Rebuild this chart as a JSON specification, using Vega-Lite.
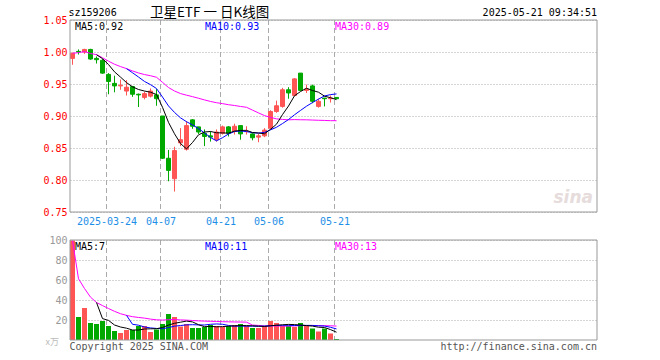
{
  "$schema": "https://vega.github.io/schema/vega-lite/v6.json",
  "width": 527,
  "height": 320,
  "autosize": {"type": "none"},
  "padding": {"left": 70, "top": 20, "right": 63, "bottom": 20},
  "background": "white",
  "config": {
    "view": {"stroke": null},
    "text": {"font": "DejaVu Sans Mono", "fontSize": 10},
    "axis": {"labelFont": "DejaVu Sans Mono", "labelFontSize": 10},
    "scale": {"continuousPadding": 0}
  },
  "data": {
    "values": [
      {"i": 0, "d": "2025-03-14", "o": 0.990, "h": 0.999, "l": 0.980, "c": 0.998, "v": 99.5},
      {"i": 1, "d": "2025-03-17", "o": 1.001, "h": 1.004, "l": 0.996, "c": 1.000, "v": 23},
      {"i": 2, "d": "2025-03-18", "o": 1.000, "h": 1.005, "l": 0.997, "c": 1.004, "v": 32},
      {"i": 3, "d": "2025-03-19", "o": 1.004, "h": 1.005, "l": 0.988, "c": 0.989, "v": 17},
      {"i": 4, "d": "2025-03-20", "o": 0.990, "h": 0.993, "l": 0.982, "c": 0.988, "v": 16},
      {"i": 5, "d": "2025-03-21", "o": 0.987, "h": 0.989, "l": 0.966, "c": 0.967, "v": 19},
      {"i": 6, "d": "2025-03-24", "o": 0.965, "h": 0.967, "l": 0.934, "c": 0.954, "v": 14},
      {"i": 7, "d": "2025-03-25", "o": 0.951, "h": 0.963, "l": 0.937, "c": 0.947, "v": 9},
      {"i": 8, "d": "2025-03-26", "o": 0.947, "h": 0.957, "l": 0.941, "c": 0.948, "v": 7},
      {"i": 9, "d": "2025-03-27", "o": 0.939, "h": 0.956, "l": 0.932, "c": 0.945, "v": 10},
      {"i": 10, "d": "2025-03-28", "o": 0.946, "h": 0.947, "l": 0.930, "c": 0.934, "v": 10},
      {"i": 11, "d": "2025-03-31", "o": 0.934, "h": 0.935, "l": 0.914, "c": 0.933, "v": 14},
      {"i": 12, "d": "2025-04-01", "o": 0.929, "h": 0.938, "l": 0.926, "c": 0.935, "v": 14},
      {"i": 13, "d": "2025-04-02", "o": 0.931, "h": 0.943, "l": 0.929, "c": 0.939, "v": 8},
      {"i": 14, "d": "2025-04-03", "o": 0.933, "h": 0.942, "l": 0.916, "c": 0.927, "v": 10.5},
      {"i": 15, "d": "2025-04-07", "o": 0.900, "h": 0.900, "l": 0.833, "c": 0.834, "v": 16},
      {"i": 16, "d": "2025-04-08", "o": 0.834, "h": 0.847, "l": 0.798, "c": 0.815, "v": 26},
      {"i": 17, "d": "2025-04-09", "o": 0.802, "h": 0.852, "l": 0.782, "c": 0.846, "v": 23},
      {"i": 18, "d": "2025-04-10", "o": 0.858, "h": 0.881, "l": 0.853, "c": 0.863, "v": 13.5},
      {"i": 19, "d": "2025-04-11", "o": 0.848, "h": 0.892, "l": 0.846, "c": 0.885, "v": 16},
      {"i": 20, "d": "2025-04-14", "o": 0.894, "h": 0.895, "l": 0.880, "c": 0.884, "v": 12},
      {"i": 21, "d": "2025-04-15", "o": 0.883, "h": 0.883, "l": 0.872, "c": 0.875, "v": 12},
      {"i": 22, "d": "2025-04-16", "o": 0.873, "h": 0.879, "l": 0.853, "c": 0.868, "v": 13},
      {"i": 23, "d": "2025-04-17", "o": 0.869, "h": 0.876, "l": 0.860, "c": 0.867, "v": 15},
      {"i": 24, "d": "2025-04-18", "o": 0.863, "h": 0.879, "l": 0.860, "c": 0.875, "v": 14},
      {"i": 25, "d": "2025-04-21", "o": 0.873, "h": 0.885, "l": 0.871, "c": 0.883, "v": 13},
      {"i": 26, "d": "2025-04-22", "o": 0.883, "h": 0.884, "l": 0.868, "c": 0.873, "v": 14},
      {"i": 27, "d": "2025-04-23", "o": 0.876, "h": 0.888, "l": 0.871, "c": 0.884, "v": 15},
      {"i": 28, "d": "2025-04-24", "o": 0.885, "h": 0.885, "l": 0.863, "c": 0.872, "v": 16},
      {"i": 29, "d": "2025-04-25", "o": 0.8755, "h": 0.884, "l": 0.871, "c": 0.876, "v": 14},
      {"i": 30, "d": "2025-04-28", "o": 0.872, "h": 0.873, "l": 0.862, "c": 0.866, "v": 12},
      {"i": 31, "d": "2025-04-29", "o": 0.867, "h": 0.872, "l": 0.859, "c": 0.869, "v": 12},
      {"i": 32, "d": "2025-04-30", "o": 0.869, "h": 0.881, "l": 0.867, "c": 0.878, "v": 14},
      {"i": 33, "d": "2025-05-06", "o": 0.881, "h": 0.909, "l": 0.879, "c": 0.907, "v": 19},
      {"i": 34, "d": "2025-05-07", "o": 0.907, "h": 0.924, "l": 0.905, "c": 0.916, "v": 17},
      {"i": 35, "d": "2025-05-08", "o": 0.915, "h": 0.944, "l": 0.913, "c": 0.941, "v": 14},
      {"i": 36, "d": "2025-05-09", "o": 0.941, "h": 0.945, "l": 0.927, "c": 0.936, "v": 14},
      {"i": 37, "d": "2025-05-12", "o": 0.932, "h": 0.959, "l": 0.932, "c": 0.958, "v": 13},
      {"i": 38, "d": "2025-05-13", "o": 0.967, "h": 0.967, "l": 0.940, "c": 0.940, "v": 17},
      {"i": 39, "d": "2025-05-14", "o": 0.940, "h": 0.949, "l": 0.936, "c": 0.942, "v": 14},
      {"i": 40, "d": "2025-05-15", "o": 0.947, "h": 0.949, "l": 0.920, "c": 0.923, "v": 11.5},
      {"i": 41, "d": "2025-05-16", "o": 0.915, "h": 0.927, "l": 0.913, "c": 0.923, "v": 8.5},
      {"i": 42, "d": "2025-05-19", "o": 0.928, "h": 0.928, "l": 0.915, "c": 0.927, "v": 11.5},
      {"i": 43, "d": "2025-05-20", "o": 0.927, "h": 0.932, "l": 0.921, "c": 0.928, "v": 6.5},
      {"i": 44, "d": "2025-05-21", "o": 0.929, "h": 0.929, "l": 0.927, "c": 0.927, "v": 1}
    ]
  },
  "layer": [
    {
      "layer": [
        {
          "transform": [{"filter": {"field": "i", "oneOf": [6, 15, 25, 33, 44]}}],
          "mark": {"type": "rule", "color": "#aaaaaa", "strokeDash": [5, 3], "strokeWidth": 1},
          "encoding": {
            "x": {
              "field": "i", "type": "quantitative",
              "scale": {"domain": [-0.0833333, 87.75], "nice": false, "zero": false, "padding": 0},
              "axis": {
                "orient": "bottom", "offset": -128, "values": [6, 15, 25, 33, 44],
                "labelExpr": "datum.value == 6 ? '2025-03-24' : datum.value == 15 ? '04-07' : datum.value == 25 ? '04-21' : datum.value == 33 ? '05-06' : '05-21'",
                "domain": false, "ticks": false, "grid": false, "title": null,
                "labelColor": "#1e8fe6", "labelPadding": 4, "labelOverlap": false, "labelFlush": false
              }
            },
            "y": {
              "datum": 1.05, "type": "quantitative",
              "scale": {"domain": [0.55, 1.05], "nice": false, "zero": false},
              "axis": {
                "orient": "left", "values": [0.75, 0.8, 0.85, 0.9, 0.95, 1.0, 1.05], "format": ".2f",
                "domain": false, "ticks": false, "grid": true, "gridColor": "#aaaaaa", "gridDash": [1, 2],
                "labelColor": "#ff0000", "labelPadding": 3, "title": null, "labelBaseline": "middle"
              }
            },
            "y2": {"datum": 0.75}
          }
        },
        {
          "mark": {"type": "rule", "strokeWidth": 1, "xOffset": 2},
          "encoding": {
            "x": {"field": "i", "type": "quantitative", "scale": {"domain": [-0.0833333, 87.75], "nice": false, "zero": false, "padding": 0}},
            "y": {"field": "l", "type": "quantitative", "scale": {"domain": [0.55, 1.05], "nice": false, "zero": false}},
            "y2": {"field": "h"},
            "color": {"condition": {"test": "datum.c >= datum.o", "value": "#ff5555"}, "value": "#00a800"}
          }
        },
        {
          "mark": {"type": "bar", "width": 4, "xOffset": 2, "strokeWidth": 1},
          "encoding": {
            "x": {"field": "i", "type": "quantitative", "scale": {"domain": [-0.0833333, 87.75], "nice": false, "zero": false, "padding": 0}},
            "y": {"field": "o", "type": "quantitative", "scale": {"domain": [0.55, 1.05], "nice": false, "zero": false}},
            "y2": {"field": "c"},
            "fill": {"condition": {"test": "datum.c >= datum.o", "value": "#ff5555"}, "value": "#00a800"},
            "stroke": {"condition": {"test": "datum.c >= datum.o", "value": "#ff5555"}, "value": "#00a800"}
          }
        },
        {
          "transform": [
            {"window": [{"op": "mean", "field": "c", "as": "ma"}], "frame": [-29, 0], "sort": [{"field": "i"}]}
          ],
          "mark": {"type": "line", "color": "#ff00ff", "strokeWidth": 1, "xOffset": 2},
          "encoding": {
            "x": {"field": "i", "type": "quantitative", "scale": {"domain": [-0.0833333, 87.75], "nice": false, "zero": false, "padding": 0}},
            "y": {"field": "ma", "type": "quantitative", "scale": {"domain": [0.55, 1.05], "nice": false, "zero": false}}
          }
        },
        {
          "transform": [
            {"window": [{"op": "mean", "field": "c", "as": "ma"}, {"op": "count", "field": "c", "as": "n"}], "frame": [-9, 0], "sort": [{"field": "i"}]},
            {"filter": "datum.n >= 10"}
          ],
          "mark": {"type": "line", "color": "#0000ff", "strokeWidth": 1, "xOffset": 2},
          "encoding": {
            "x": {"field": "i", "type": "quantitative", "scale": {"domain": [-0.0833333, 87.75], "nice": false, "zero": false, "padding": 0}},
            "y": {"field": "ma", "type": "quantitative", "scale": {"domain": [0.55, 1.05], "nice": false, "zero": false}}
          }
        },
        {
          "transform": [
            {"window": [{"op": "mean", "field": "c", "as": "ma"}, {"op": "count", "field": "c", "as": "n"}], "frame": [-4, 0], "sort": [{"field": "i"}]},
            {"filter": "datum.n >= 5"}
          ],
          "mark": {"type": "line", "color": "#000000", "strokeWidth": 1, "xOffset": 2},
          "encoding": {
            "x": {"field": "i", "type": "quantitative", "scale": {"domain": [-0.0833333, 87.75], "nice": false, "zero": false, "padding": 0}},
            "y": {"field": "ma", "type": "quantitative", "scale": {"domain": [0.55, 1.05], "nice": false, "zero": false}}
          }
        },
        {
          "data": {"values": [{"t": "frame"}]},
          "mark": {"type": "rect", "filled": false, "color": "#999999", "strokeWidth": 1},
          "encoding": {
            "x": {"datum": -0.0833333, "type": "quantitative"},
            "x2": {"datum": 87.75},
            "y": {"datum": 1.05, "type": "quantitative"},
            "y2": {"datum": 0.75}
          }
        },
        {
          "data": {"values": [{"t": "sina"}]},
          "mark": {"type": "text", "align": "right", "baseline": "middle", "dx": -4, "dy": -14, "font": "DejaVu Sans", "fontSize": 17, "fontWeight": "bold", "fontStyle": "italic", "color": "#e6dcdc"},
          "encoding": {
            "x": {"datum": 87.75, "type": "quantitative"},
            "y": {"datum": 0.75, "type": "quantitative"},
            "text": {"field": "t"}
          }
        },
        {
          "data": {"values": [{"t": "MA5:0.92"}]},
          "mark": {"type": "text", "align": "left", "baseline": "middle", "dy": 7, "color": "#000000"},
          "encoding": {"x": {"datum": 0.75, "type": "quantitative"}, "y": {"datum": 1.05, "type": "quantitative"}, "text": {"field": "t"}}
        },
        {
          "data": {"values": [{"t": "MA10:0.93"}]},
          "mark": {"type": "text", "align": "left", "baseline": "middle", "dy": 7, "color": "#0000ff"},
          "encoding": {"x": {"datum": 22.42, "type": "quantitative"}, "y": {"datum": 1.05, "type": "quantitative"}, "text": {"field": "t"}}
        },
        {
          "data": {"values": [{"t": "MA30:0.89"}]},
          "mark": {"type": "text", "align": "left", "baseline": "middle", "dy": 7, "color": "#ff00ff"},
          "encoding": {"x": {"datum": 44.08, "type": "quantitative"}, "y": {"datum": 1.05, "type": "quantitative"}, "text": {"field": "t"}}
        },
        {
          "data": {"values": [{"t": "sz159206"}]},
          "mark": {"type": "text", "align": "left", "baseline": "middle", "dx": -1.5, "dy": -7.5, "color": "#000000"},
          "encoding": {"x": {"datum": -0.0833333, "type": "quantitative"}, "y": {"datum": 1.05, "type": "quantitative"}, "text": {"field": "t"}}
        },
        {
          "data": {"values": [{"t": "卫星ETF 一 日K线图"}]},
          "mark": {"type": "text", "align": "center", "baseline": "middle", "dy": -7.5, "font": "Noto Sans CJK SC", "fontSize": 13.5, "color": "#000000"},
          "encoding": {"x": {"datum": 23.17, "type": "quantitative"}, "y": {"datum": 1.05, "type": "quantitative"}, "text": {"field": "t"}}
        },
        {
          "data": {"values": [{"t": "2025-05-21 09:34:51"}]},
          "mark": {"type": "text", "align": "right", "baseline": "middle", "dy": -7.5, "color": "#000000"},
          "encoding": {"x": {"datum": 87.75, "type": "quantitative"}, "y": {"datum": 1.05, "type": "quantitative"}, "text": {"field": "t"}}
        }
      ]
    },
    {
      "layer": [
        {
          "transform": [{"filter": {"field": "i", "oneOf": [6, 15, 25, 33, 44]}}],
          "mark": {"type": "rule", "color": "#aaaaaa", "strokeDash": [5, 3], "strokeWidth": 1},
          "encoding": {
            "x": {"field": "i", "type": "quantitative", "scale": {"domain": [-0.0833333, 87.75], "nice": false, "zero": false, "padding": 0}},
            "y": {
              "datum": 100, "type": "quantitative",
              "scale": {"domain": [0, 320], "nice": false, "zero": false},
              "axis": {
                "orient": "left", "values": [20, 40, 60, 80, 100],
                "domain": false, "ticks": false, "grid": true, "gridColor": "#aaaaaa", "gridDash": [1, 2],
                "labelColor": "#999999", "labelPadding": 3, "title": null, "labelBaseline": "middle"
              }
            },
            "y2": {"datum": 0}
          }
        },
        {
          "mark": {"type": "bar", "width": 5, "xOffset": 2},
          "encoding": {
            "x": {"field": "i", "type": "quantitative", "scale": {"domain": [-0.0833333, 87.75], "nice": false, "zero": false, "padding": 0}},
            "y": {"field": "v", "type": "quantitative", "scale": {"domain": [0, 320], "nice": false, "zero": false}},
            "y2": {"datum": 0},
            "color": {"condition": {"test": "datum.c >= datum.o", "value": "#ff5555"}, "value": "#00a800"}
          }
        },
        {
          "transform": [
            {"window": [{"op": "mean", "field": "v", "as": "ma"}], "frame": [-29, 0], "sort": [{"field": "i"}]}
          ],
          "mark": {"type": "line", "color": "#ff00ff", "strokeWidth": 1, "xOffset": 2},
          "encoding": {
            "x": {"field": "i", "type": "quantitative", "scale": {"domain": [-0.0833333, 87.75], "nice": false, "zero": false, "padding": 0}},
            "y": {"field": "ma", "type": "quantitative", "scale": {"domain": [0, 320], "nice": false, "zero": false}}
          }
        },
        {
          "transform": [
            {"window": [{"op": "mean", "field": "v", "as": "ma"}, {"op": "count", "field": "v", "as": "n"}], "frame": [-9, 0], "sort": [{"field": "i"}]},
            {"filter": "datum.n >= 10"}
          ],
          "mark": {"type": "line", "color": "#0000ff", "strokeWidth": 1, "xOffset": 2},
          "encoding": {
            "x": {"field": "i", "type": "quantitative", "scale": {"domain": [-0.0833333, 87.75], "nice": false, "zero": false, "padding": 0}},
            "y": {"field": "ma", "type": "quantitative", "scale": {"domain": [0, 320], "nice": false, "zero": false}}
          }
        },
        {
          "transform": [
            {"window": [{"op": "mean", "field": "v", "as": "ma"}, {"op": "count", "field": "v", "as": "n"}], "frame": [-4, 0], "sort": [{"field": "i"}]},
            {"filter": "datum.n >= 5"}
          ],
          "mark": {"type": "line", "color": "#000000", "strokeWidth": 1, "xOffset": 2},
          "encoding": {
            "x": {"field": "i", "type": "quantitative", "scale": {"domain": [-0.0833333, 87.75], "nice": false, "zero": false, "padding": 0}},
            "y": {"field": "ma", "type": "quantitative", "scale": {"domain": [0, 320], "nice": false, "zero": false}}
          }
        },
        {
          "data": {"values": [{"t": "frame"}]},
          "mark": {"type": "rect", "filled": false, "color": "#999999", "strokeWidth": 1},
          "encoding": {
            "x": {"datum": -0.0833333, "type": "quantitative"},
            "x2": {"datum": 87.75},
            "y": {"datum": 100, "type": "quantitative"},
            "y2": {"datum": 0}
          }
        },
        {
          "data": {"values": [{"t": "MA5:7"}]},
          "mark": {"type": "text", "align": "left", "baseline": "middle", "dy": 7, "color": "#000000"},
          "encoding": {"x": {"datum": 0.75, "type": "quantitative"}, "y": {"datum": 100, "type": "quantitative"}, "text": {"field": "t"}}
        },
        {
          "data": {"values": [{"t": "MA10:11"}]},
          "mark": {"type": "text", "align": "left", "baseline": "middle", "dy": 7, "color": "#0000ff"},
          "encoding": {"x": {"datum": 22.42, "type": "quantitative"}, "y": {"datum": 100, "type": "quantitative"}, "text": {"field": "t"}}
        },
        {
          "data": {"values": [{"t": "MA30:13"}]},
          "mark": {"type": "text", "align": "left", "baseline": "middle", "dy": 7, "color": "#ff00ff"},
          "encoding": {"x": {"datum": 44.08, "type": "quantitative"}, "y": {"datum": 100, "type": "quantitative"}, "text": {"field": "t"}}
        },
        {
          "data": {"values": [{"t": "Copyright 2025 SINA.COM"}]},
          "mark": {"type": "text", "align": "left", "baseline": "middle", "dx": -0.5, "dy": 6.5, "color": "#555555"},
          "encoding": {"x": {"datum": -0.0833333, "type": "quantitative"}, "y": {"datum": 0, "type": "quantitative"}, "text": {"field": "t"}}
        },
        {
          "data": {"values": [{"t": "http://finance.sina.com.cn"}]},
          "mark": {"type": "text", "align": "right", "baseline": "middle", "dy": 6.5, "color": "#555555"},
          "encoding": {"x": {"datum": 87.75, "type": "quantitative"}, "y": {"datum": 0, "type": "quantitative"}, "text": {"field": "t"}}
        },
        {
          "data": {"values": [{"t": "x万"}]},
          "mark": {"type": "text", "align": "right", "baseline": "middle", "dx": -11, "dy": 1.5, "font": "Noto Sans CJK SC", "fontSize": 9, "color": "#bbbbbb"},
          "encoding": {"x": {"datum": -0.0833333, "type": "quantitative"}, "y": {"datum": 0, "type": "quantitative"}, "text": {"field": "t"}}
        }
      ]
    }
  ],
  "resolve": {"scale": {"y": "independent"}, "axis": {"y": "independent"}}
}
